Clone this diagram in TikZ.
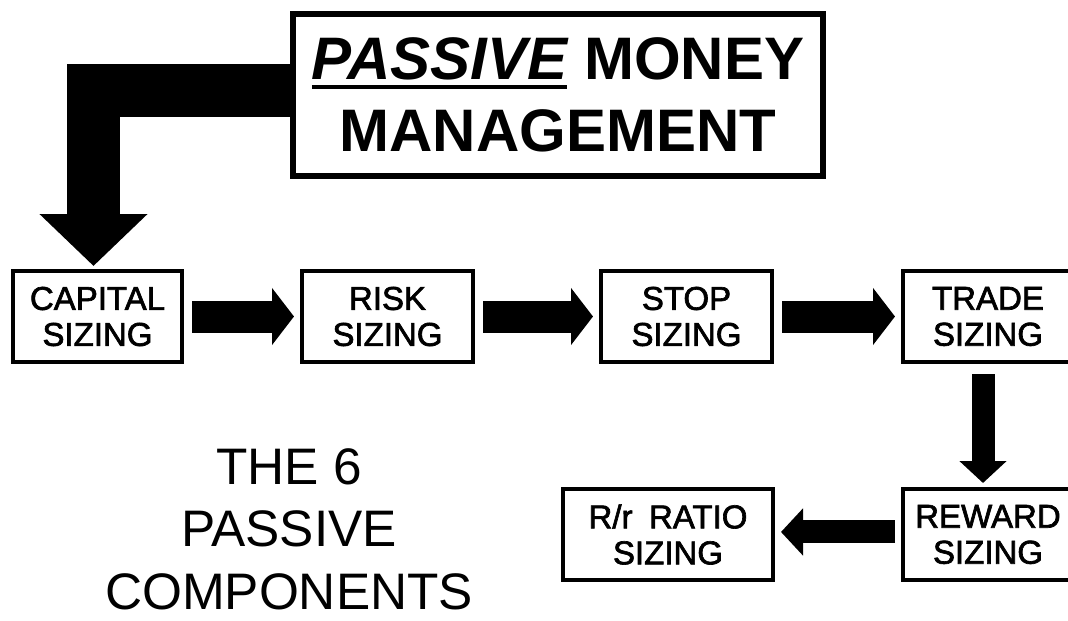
\documentclass[tikz,border=0pt]{standalone}
\usepackage{fontspec}
\setmainfont{Liberation Sans}
\newfontfamily\stagefont{Liberation Sans}[FakeBold=2]
\usetikzlibrary{arrows.meta}
% underline drawn as a thick rule below a word
\newcommand\ulword[1]{\sbox0{#1}\rlap{\raisebox{-6.75pt}{\rule{\wd0}{3pt}}}\usebox0}
\begin{document}
\begin{tikzpicture}[x=0.75pt,y=-0.75pt,
  stagebox/.style={draw,line width=3pt,minimum height=68.25pt,inner sep=0pt,align=center,
    font=\stagefont\fontsize{24.75}{27}\selectfont},
  titlebox/.style={draw,line width=4.5pt,minimum width=397.5pt,minimum height=121.5pt,inner sep=0pt,
    align=center,font=\bfseries\fontsize{45}{54}\selectfont},
  flowarrow/.style={line width=24pt,-{Triangle[width=42pt,length=16.5pt]}},
  turnarrow/.style={line width=17.25pt,-{Triangle[width=34.5pt,length=16.5pt]}},
  elbowarrow/.style={line width=39.75pt,line join=miter,-{Triangle[width=78.75pt,length=39pt]}},
  caption/.style={align=center,font=\fontsize{38.5}{47}\selectfont}
]
\useasboundingbox (0,0) rectangle (1068,621);

% title box
\node[titlebox] (title) at (558,95) {\ulword{\itshape PASSIVE} MONEY\\MANAGEMENT};

% the six sizing stages
\node[stagebox,minimum width=126.75pt] (cap)    at (97.5,316.5)  {CAPITAL\\SIZING};
\node[stagebox,minimum width=128.25pt] (risk)   at (387.5,316.5) {RISK\\SIZING};
\node[stagebox,minimum width=128.25pt] (stop)   at (686.5,316.5) {STOP\\SIZING};
\node[stagebox,minimum width=127.5pt]  (trade)  at (988,316.5)   {TRADE\\SIZING};
\node[stagebox,minimum width=127.5pt]  (reward) at (988,534.5)   {REWARD\\SIZING};
\node[stagebox,minimum width=157.5pt]  (ratio)  at (668,534.5)   {R/r\enspace RATIO\\SIZING};

% caption
\node[caption] (label) at (289,529) {THE 6\\PASSIVE\\COMPONENTS};

% connectors
\draw[elbowarrow] ([yshift=3.4pt]title.west) -| ([xshift=-3pt,yshift=2.25pt]cap.north);
\draw[flowarrow] ([xshift=6pt]cap.east) -- ([xshift=-4.5pt]risk.west);
\draw[flowarrow] ([xshift=6pt]risk.east) -- ([xshift=-4.5pt]stop.west);
\draw[flowarrow] ([xshift=6pt]stop.east) -- ([xshift=-4.5pt]trade.west);
\draw[turnarrow] ([xshift=-3.75pt,yshift=-7.5pt]trade.south) -- ([xshift=-3.75pt,yshift=3pt]reward.north);
\draw[turnarrow] ([xshift=-4.5pt,yshift=1.9pt]reward.west) -- ([xshift=4.5pt,yshift=1.9pt]ratio.east);
\end{tikzpicture}
\end{document}
